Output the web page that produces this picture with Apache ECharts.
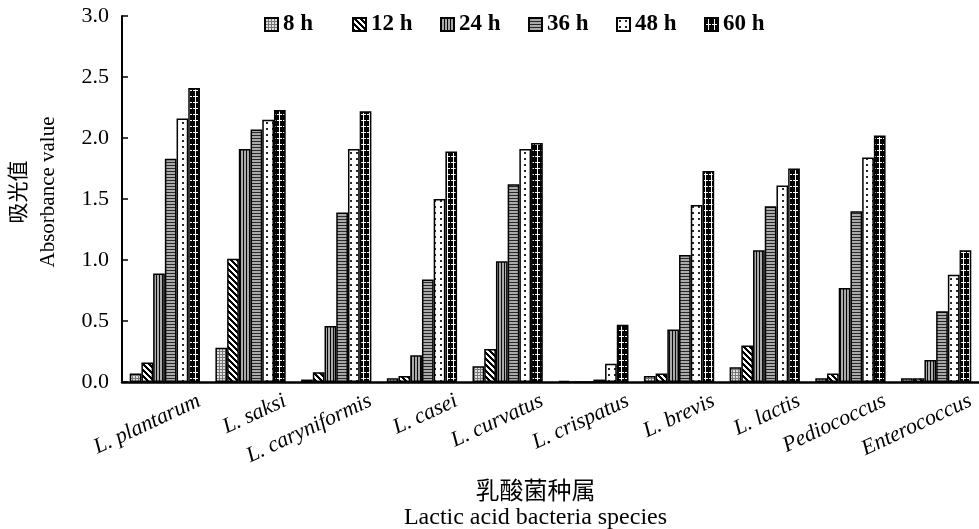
<!DOCTYPE html>
<html>
<head>
<meta charset="utf-8">
<script src="https://cdn.jsdelivr.net/npm/echarts/dist/echarts.min.js"></script>
<style>
  html, body { margin: 0; padding: 0; background: #fff; }
  #chart { width: 979px; height: 529px; }
</style>
</head>
<body>
<div id="chart"></div>
<script>
// Absorbance of lactic acid bacteria cultures over incubation time
const categories = ['L. plantarum', 'L. saksi', 'L. caryniformis', 'L. casei', 'L. curvatus',
                    'L. crispatus', 'L. brevis', 'L. lactis', 'Pediococcus', 'Enterococcus'];
const seriesNames = ['8 h', '12 h', '24 h', '36 h', '48 h', '60 h'];
const h8  = [0.07, 0.28, 0.02, 0.03, 0.13, 0.01, 0.05, 0.12, 0.03, 0.03];
const h12 = [0.16, 1.01, 0.08, 0.05, 0.27, 0.00, 0.07, 0.30, 0.07, 0.03];
const h24 = [0.89, 1.91, 0.46, 0.22, 0.99, 0.00, 0.43, 1.08, 0.77, 0.18];
const h36 = [1.83, 2.07, 1.39, 0.84, 1.62, 0.02, 1.04, 1.44, 1.40, 0.58];
const h48 = [2.16, 2.15, 1.91, 1.50, 1.91, 0.15, 1.45, 1.61, 1.84, 0.88];
const h60 = [2.41, 2.23, 2.22, 1.89, 1.96, 0.47, 1.73, 1.75, 2.02, 1.08];
const yTicks = [0, 0.5, 1.0, 1.5, 2.0, 2.5, 3.0];

const FONT = '"Liberation Serif", "Times New Roman", "Noto Sans CJK SC", serif';

// Small grey-level tiles used as hatch fills for the bars
function makeTile(w, h, fn) {
  const c = document.createElement('canvas');
  c.width = w; c.height = h;
  const ctx = c.getContext('2d');
  const img = ctx.createImageData(w, h);
  for (let y = 0; y < h; y++) {
    for (let x = 0; x < w; x++) {
      const v = fn(x, y);
      const i = (y * w + x) * 4;
      img.data[i] = img.data[i + 1] = img.data[i + 2] = v;
      img.data[i + 3] = 255;
    }
  }
  ctx.putImageData(img, 0, 0);
  return { image: c, repeat: 'repeat' };
}

const fills = [
  makeTile(3, 3, (x, y) => (x === 0 || y === 0) ? 120 : 225),        // stipple
  makeTile(6, 6, (x, y) => (((x - y) % 6) + 6) % 6 < 3 ? 0 : 255),    // back-diagonal
  makeTile(3, 1, (x) => x === 0 ? 10 : 170),                          // vertical lines
  makeTile(1, 3, (x, y) => y === 0 ? 40 : 170),                       // horizontal lines
  makeTile(6, 6, (x, y) => (x >= 2 && x <= 3 && y >= 2 && y <= 3) ? 40 : 255), // sparse dots
  makeTile(6, 6, (x, y) => ((y === 0 && x >= 1) || x === 3) ? 255 : 0) // white grid on black
];

const values = [h8, h12, h24, h36, h48, h60];

const series = seriesNames.map((name, i) => ({
  name: name,
  type: 'bar',
  data: values[i],
  barGap: '0%',
  barCategoryGap: '18%',
  itemStyle: { color: fills[i], borderColor: '#000', borderWidth: 1.5 }
}));

// One legend per series so the entries sit on an even 88px pitch
const legends = seriesNames.map((name, i) => ({
  data: [name],
  left: 259 + i * 88, top: 8,
  icon: 'rect',
  itemWidth: 13, itemHeight: 13,
  textStyle: { fontFamily: FONT, fontSize: 23, fontWeight: 'bold', color: '#000' }
}));

const chart = echarts.init(document.getElementById('chart'), null, { renderer: 'canvas' });
chart.setOption({
  animation: false,
  backgroundColor: '#fff',
  grid: { left: 122, right: 0, top: 16, bottom: 147, containLabel: false, outerBoundsMode: 'none' },
  legend: legends,
  xAxis: {
    type: 'category',
    data: categories,
    name: '乳酸菌种属\nLactic acid bacteria species',
    nameLocation: 'middle',
    nameGap: 98,
    nameTextStyle: { fontFamily: FONT, fontSize: 24, color: '#000', lineHeight: 25, padding: [0, 30, 0, 0] },
    axisLine: { lineStyle: { color: '#000', width: 2.5 } },
    axisTick: { inside: true, length: 6, lineStyle: { color: '#000', width: 1.5 } },
    axisLabel: {
      interval: 0, rotate: 25, margin: 34,
      fontFamily: FONT, fontSize: 22, fontStyle: 'italic', color: '#000',
      padding: [0, -38, 0, 0]
    },
    splitLine: { show: false }
  },
  yAxis: {
    type: 'value',
    min: yTicks[0], max: yTicks[yTicks.length - 1], interval: 0.5,
    name: '吸光值\nAbsorbance value',
    nameLocation: 'middle',
    nameRotate: 90,
    nameGap: 59,
    nameTextStyle: { fontFamily: FONT, fontSize: 21, color: '#000', lineHeight: 29, padding: [0, 0, 0, 14] },
    axisLine: { show: true, lineStyle: { color: '#000', width: 2 } },
    axisTick: { show: true, inside: true, length: 6, lineStyle: { color: '#000', width: 1.5 } },
    axisLabel: { margin: 13, fontFamily: FONT, fontSize: 22, color: '#000', formatter: v => v.toFixed(1) },
    splitLine: { show: false }
  },
  series: series
});
</script>
</body>
</html>
